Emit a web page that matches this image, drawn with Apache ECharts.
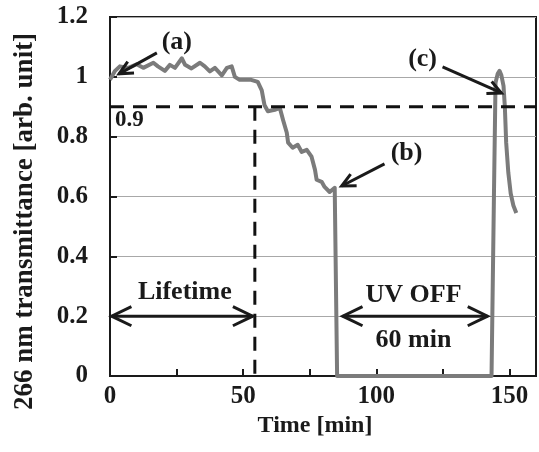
<!DOCTYPE html>
<html><head><meta charset="utf-8">
<script src="https://cdn.jsdelivr.net/npm/echarts@6/dist/echarts.min.js"></script>
<style>html,body{margin:0;padding:0;background:#fff}#c{width:539px;height:452px}</style>
</head><body><div id="c"></div>
<script>
// ---- data ----
const time = [0, 1.9, 3.7, 6.9, 10, 12.5, 16.3, 18, 20.6, 22.5, 24.4, 27, 28.2, 30.6, 33.8, 35.6, 37.5, 39.4, 42, 43.9, 45.7, 46.9, 48.7, 53, 55.5, 57, 58, 59.3, 61.9, 63.8, 65, 66.4, 66.9, 68.6, 70.5, 72, 73.9, 75.7, 77, 77.6, 79.5, 80.6, 82.5, 84.4, 85.1, 85.3, 143.3, 144.2, 144.8, 145.6, 146.3, 147, 147.8, 148.3, 148.8, 149.6, 150.5, 151.5, 152.6];
const transmittance = [0.99, 1.02, 1.035, 1.03, 1.042, 1.03, 1.047, 1.035, 1.02, 1.04, 1.03, 1.062, 1.04, 1.028, 1.047, 1.035, 1.018, 1.03, 1.005, 1.03, 1.035, 1.0, 0.99, 0.99, 0.983, 0.955, 0.906, 0.885, 0.89, 0.896, 0.856, 0.813, 0.78, 0.763, 0.773, 0.749, 0.756, 0.733, 0.689, 0.656, 0.649, 0.632, 0.615, 0.629, 0.63, 0.0, 0.0, 0.6, 0.98, 1.01, 1.02, 1.005, 0.97, 0.9, 0.78, 0.68, 0.61, 0.57, 0.545];
const threshold = 0.9;
const lifetimeEnd = 54.4;
const xLabelStep = 50;
const yTickStep = 0.2;

// annotation anchors in data units [time, value]
const annotTexts = ['(a)', '(b)', '(c)', 'Lifetime', 'UV OFF', '60 min', '0.9'];
const annotAt = [[25.1, 1.117], [111.4, 0.746], [117.4, 1.057], [28.1, 0.281], [114, 0.271], [114, 0.12], [7.3, 0.856]];
const pointerArrows = [[[17.6, 1.08], [3.4, 1.01]], [[103.1, 0.709], [87, 0.635]], [[124.9, 1.033], [147, 0.946]]];
const spanArrows = [[[0.6, 0.2], [53.6, 0.2]], [[87.4, 0.2], [141.8, 0.2]]];

const FONT = '"Liberation Serif", "Times New Roman", serif';
const INK = '#1a1a1a';

const chart = echarts.init(document.getElementById('c'), null, {renderer: 'canvas'});
chart.setOption({
  animation: false,
  backgroundColor: '#fff',
  grid: {left: 110, top: 17, right: 3, bottom: 76, show: true, borderColor: INK, borderWidth: 2,
    containLabel: false, outerBoundsMode: 'none'},
  xAxis: {
    type: 'value', min: 0, max: 160, interval: 25,
    name: 'Time [min]', nameLocation: 'middle', nameGap: 44,
    nameTextStyle: {fontFamily: FONT, fontWeight: 'bold', fontSize: 24, color: INK, verticalAlign: 'middle', padding: [0, 16, 0, 0]},
    axisLine: {lineStyle: {color: INK, width: 2}},
    axisTick: {inside: true, length: 7, lineStyle: {color: INK, width: 2}},
    axisLabel: {fontFamily: FONT, fontWeight: 'bold', fontSize: 25, color: INK, margin: 8,
      formatter: v => (Math.abs(v % xLabelStep) < 1e-9 && v <= 150) ? String(v) : ''},
    splitLine: {show: false}
  },
  yAxis: {
    type: 'value', min: 0, max: 1.2, interval: yTickStep,
    name: '266 nm transmittance [arb. unit]', nameLocation: 'middle', nameGap: 71,
    nameTextStyle: {fontFamily: FONT, fontWeight: 'bold', fontSize: 27, color: INK, padding: [0, 50, 0, 0]},
    axisLine: {show: true, lineStyle: {color: INK, width: 2}},
    axisTick: {show: true, inside: true, length: 7, lineStyle: {color: INK, width: 2}},
    axisLabel: {fontFamily: FONT, fontWeight: 'bold', fontSize: 25, color: INK, margin: 22},
    splitLine: {show: true, lineStyle: {color: '#a8a8a8', width: 1}}
  },
  series: [
    {type: 'line', data: time.map((t, i) => [t, transmittance[i]]), showSymbol: false, symbol: 'none',
      lineStyle: {color: '#7b7b7b', width: 4, join: 'round'}, z: 3, silent: true},
    {type: 'line', data: [[0, threshold], [160, threshold]], symbol: 'none',
      lineStyle: {color: '#111', width: 3, type: [14, 9]}, z: 4, silent: true},
    {type: 'line', data: [[lifetimeEnd, threshold], [lifetimeEnd, 0]], symbol: 'none',
      lineStyle: {color: '#111', width: 3, type: [14, 9]}, z: 4, silent: true}
  ]
});

function px(p) { return chart.convertToPixel({gridIndex: 0}, p); }
function head(tip, from, len, half) {
  const a = Math.atan2(from[1] - tip[1], from[0] - tip[0]);
  return [[tip[0] + len * Math.cos(a + half), tip[1] + len * Math.sin(a + half)], tip,
          [tip[0] + len * Math.cos(a - half), tip[1] + len * Math.sin(a - half)]];
}
const g = [];
const lineSty = {stroke: INK, lineWidth: 3, fill: null, lineJoin: 'miter'};
pointerArrows.forEach(([s, e]) => {
  const S = px(s), E = px(e);
  g.push({type: 'polyline', shape: {points: [S, E]}, style: lineSty, z: 10});
  g.push({type: 'polyline', shape: {points: head(E, S, 15, 0.45)}, style: lineSty, z: 10});
});
spanArrows.forEach(([s, e]) => {
  const S = px(s), E = px(e);
  g.push({type: 'polyline', shape: {points: [S, E]}, style: lineSty, z: 10});
  g.push({type: 'polyline', shape: {points: head(E, S, 22, 0.45)}, style: lineSty, z: 10});
  g.push({type: 'polyline', shape: {points: head(S, E, 22, 0.45)}, style: lineSty, z: 10});
});
annotTexts.forEach((t, i) => {
  const P = px(annotAt[i]);
  g.push({type: 'text', x: P[0], y: P[1], z: 11,
    style: {text: t, font: (t === '0.9' ? 'bold 23px ' : 'bold 26px ') + FONT, fill: INK, align: 'center', verticalAlign: 'middle'}});
});
chart.setOption({graphic: g});
</script>
</body></html>
